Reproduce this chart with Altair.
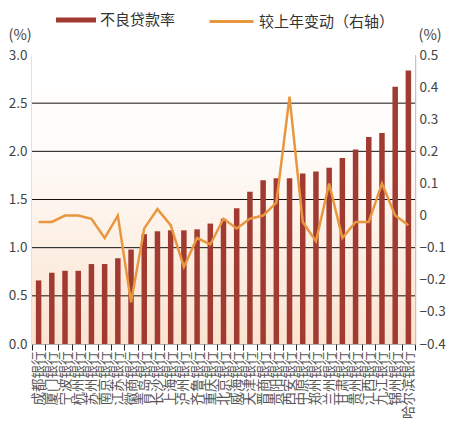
import pandas as pd
import altair as alt

FONT = "Noto Sans CJK SC"
W, H = 383, 289

# bank names along the x axis
banks = [
    "成都银行", "厦门银行", "宁波银行", "杭州银行", "苏州银行", "南京银行",
    "江苏银行", "徽商银行", "青岛银行", "长沙银行", "上海银行", "泸州银行",
    "齐鲁银行", "重庆银行", "北京银行", "威海银行", "天津银行", "晋商银行",
    "贵阳银行", "西安银行", "中原银行", "郑州银行", "兰州银行", "甘肃银行",
    "贵州银行", "江西银行", "九江银行", "锦州银行", "哈尔滨银行",
]
# non-performing loan ratio (%), left axis
npl = [
    0.66, 0.74, 0.76, 0.76, 0.83, 0.83, 0.89, 0.98, 1.14, 1.17, 1.18, 1.18,
    1.19, 1.25, 1.30, 1.41, 1.58, 1.70, 1.72, 1.72, 1.77, 1.79, 1.83, 1.93,
    2.02, 2.15, 2.19, 2.67, 2.84,
]
# change vs previous year (pct pts), right axis
chg = [
    -0.02, -0.02, 0.00, 0.00, -0.01, -0.07, 0.00, -0.27, -0.04, 0.02, -0.03, -0.16,
    -0.07, -0.09, -0.01, -0.04, -0.01, 0.00, 0.04, 0.37, -0.02, -0.08, 0.10, -0.07,
    -0.02, -0.02, 0.10, 0.00, -0.03,
]
left_ticks = [0.0, 0.5, 1.0, 1.5, 2.0, 2.5, 3.0]
grid_vals = [0.5, 1.0, 1.5, 2.0, 2.5]
right_ticks = [-0.4, -0.3, -0.2, -0.1, 0.0, 0.1, 0.2, 0.3, 0.4, 0.5]

df = pd.DataFrame({"bank": banks, "npl": npl, "chg": chg})
df["s_bar"] = "不良贷款率"
df["s_line"] = "较上年变动（右轴）"

x = alt.X(
    "bank:N", sort=banks,
    scale=alt.Scale(paddingInner=0, paddingOuter=0),
    axis=alt.Axis(
        title=None, labelAngle=270, labelFont=FONT, labelFontSize=13.5,
        labelColor="#555", labelPadding=1, tickSize=6, tickColor="#222",
        tickBand="extent", domain=False,
    ),
)

bg = alt.Chart(pd.DataFrame({"a": [0]})).mark_rect(
    fill={
        "gradient": "linear", "x1": 0, "x2": 0, "y1": 0, "y2": 1,
        "stops": [
            {"offset": 0, "color": "#ffffff"},
            {"offset": 0.3, "color": "#fffdfb"},
            {"offset": 1, "color": "#fbe3d0"},
        ],
    }
).encode(x=alt.value(0), x2=alt.value(W), y=alt.value(0), y2=alt.value(H))

grid = alt.Chart(pd.DataFrame({"v": grid_vals})).mark_rule(
    color="#111", strokeWidth=1
).encode(y=alt.Y("v:Q"))

bars = alt.Chart(df).mark_bar(size=5.5).encode(
    x=x,
    y=alt.Y(
        "npl:Q", scale=alt.Scale(domain=[0, 3], nice=False),
        axis=alt.Axis(
            orient="left", values=left_ticks, format=".1f", grid=False, ticks=False,
            domainColor="#c4c4c4", domainWidth=2, labelFont=FONT, labelFontSize=13.5,
            labelColor="#444", labelPadding=5, title="(%)", titleAngle=0,
            titleX=-24, titleY=-16, titleAlign="left", titleBaseline="alphabetic",
            titleFont=FONT, titleFontSize=14.5, titleFontWeight="normal", titleColor="#444",
        ),
    ),
    fill=alt.Fill(
        "s_bar:N", scale=alt.Scale(range=["#a13a30"]),
        legend=alt.Legend(
            orient="none", legendX=24, legendY=-55, title=None,
            symbolType="M-1,-0.12H1V0.12H-1Z", symbolSize=1600, symbolStrokeWidth=0,
            labelFont=FONT, labelFontSize=15, labelColor="#333", labelOffset=4,
        ),
    ),
)

line = alt.Chart(df).mark_line(strokeWidth=2.5).encode(
    x=x,
    y=alt.Y(
        "chg:Q", scale=alt.Scale(domain=[-0.4, 0.5], nice=False),
        axis=alt.Axis(
            orient="right", values=right_ticks, grid=False, ticks=False,
            labelExpr="datum.value == 0 ? '0' : format(datum.value, '.1f')",
            domainColor="#c4c4c4", domainWidth=1.5, labelFont=FONT, labelFontSize=13.5,
            labelColor="#444", labelPadding=4, title="(%)", titleAngle=0,
            titleX=3, titleY=-16, titleAlign="left", titleBaseline="alphabetic",
            titleFont=FONT, titleFontSize=14.5, titleFontWeight="normal", titleColor="#444",
        ),
    ),
    stroke=alt.Stroke(
        "s_line:N", scale=alt.Scale(range=["#e8973f"]),
        legend=alt.Legend(
            orient="none", legendX=176, legendY=-57, title=None,
            symbolType="stroke", symbolSize=1936, symbolStrokeWidth=3,
            labelFont=FONT, labelFontSize=15, labelColor="#333", labelOffset=4,
        ),
    ),
)

chart = alt.layer(
    alt.layer(bg, grid, bars), line
).resolve_scale(
    y="independent", fill="independent", stroke="independent"
).properties(
    width=W, height=H,
    padding={"left": 24, "top": 47, "right": 34, "bottom": 80},
    autosize=alt.AutoSizeParams(type="none"),
).configure_view(
    stroke="#b0b0b0", strokeWidth=1
)

chart.save("out.html", embed_options={"renderer": "svg", "actions": False})
